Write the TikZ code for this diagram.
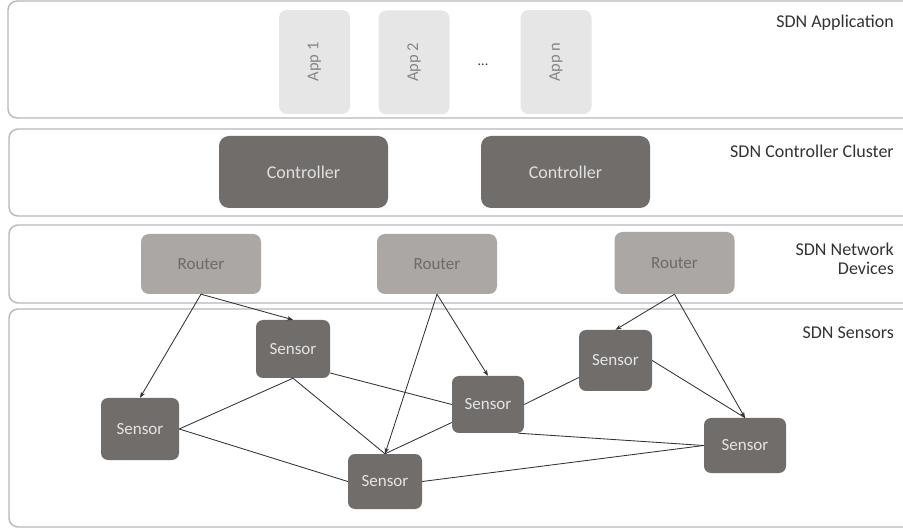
\documentclass[tikz,border=0pt]{standalone}
\usepackage{fontspec}
\setmainfont{Carlito}
\usetikzlibrary{arrows.meta}
\definecolor{layerc}{HTML}{B8B8B8}
\definecolor{darkbox}{HTML}{716D6B}
\definecolor{routerbox}{HTML}{ABA7A5}
\definecolor{routertxt}{HTML}{6E6A68}
\definecolor{appbox}{HTML}{E6E6E6}
\definecolor{apptxt}{HTML}{858585}
\definecolor{labeltxt}{HTML}{333333}
\definecolor{edgec}{HTML}{333333}
\tikzset{
  layer/.style={draw=layerc, line width=1.4pt, rounded corners=9pt, fill=white},
  appbox/.style={fill=appbox, rounded corners=8pt, minimum width=71pt, minimum height=104pt, inner sep=0pt, text=apptxt, font=\fontsize{16.5}{18}\selectfont},
  ctrlbox/.style={fill=darkbox, rounded corners=10pt, minimum width=169pt, minimum height=72pt, inner sep=0pt, text=white!88!black, font=\fontsize{18}{20}\selectfont},
  routerbox/.style={fill=routerbox, rounded corners=8pt, minimum width=120pt, minimum height=60pt, inner sep=0pt, text=routertxt, font=\fontsize{17}{20}\selectfont},
  sensorbox/.style={fill=darkbox, rounded corners=7pt, inner sep=0pt, text=white!90!black, font=\fontsize{17}{20}\selectfont},
  layerlabel/.style={anchor=north east, align=right, text=labeltxt, font=\fontsize{18}{19}\selectfont, inner sep=0pt},
  link/.style={draw=edgec, line width=0.85pt},
  arrowlink/.style={link, -{Stealth[length=6pt,width=4.5pt]}}
}
\begin{document}
\begin{tikzpicture}[x=1pt,y=-1pt]
\useasboundingbox (0,0) rectangle (903,529);
\clip (0,0) rectangle (903,529);
\fill[white] (0,0) rectangle (903,529);
% layers
\draw[layer] (8,1) rectangle (925,118);
\draw[layer] (9,129) rectangle (925,216);
\draw[layer] (9,225) rectangle (925,303);
\draw[layer] (9,309) rectangle (925,527);
% layer labels
\node[layerlabel] (lab1) at (894,15) {SDN Application};
\node[layerlabel] (lab2) at (894,145) {SDN Controller Cluster};
\node[layerlabel] (lab3) at (894,243) {SDN Network\\Devices};
\node[layerlabel] (lab4) at (894,327) {SDN Sensors};
% apps
\node[appbox] (app1) at (314.5,62) {\rotatebox{90}{App 1}};
\node[appbox] (app2) at (414,62.5) {\rotatebox{90}{App 2}};
\node[text=labeltxt, font=\fontsize{14}{16}\selectfont] (dots) at (483,65) {...};
\node[appbox] (appn) at (556,62) {\rotatebox{90}{App n}};
% controllers
\node[ctrlbox] (c1) at (303.5,172) {Controller};
\node[ctrlbox] (c2) at (565.5,172) {Controller};
% routers
\node[routerbox] (r1) at (201,264) {Router};
\node[routerbox] (r2) at (437,264) {Router};
\node[routerbox, minimum height=62pt] (r3) at (674.5,263) {Router};
% sensors
\node[sensorbox, minimum width=74pt, minimum height=58pt] (sa) at (293,349) {Sensor};
\node[sensorbox, minimum width=78pt, minimum height=62pt] (sb) at (140,429) {Sensor};
\node[sensorbox, minimum width=74pt, minimum height=55pt] (sc) at (385,481.5) {Sensor};
\node[sensorbox, minimum width=72pt, minimum height=57pt] (sd) at (488,404.5) {Sensor};
\node[sensorbox, minimum width=73pt, minimum height=61pt] (se) at (615.5,360.5) {Sensor};
\node[sensorbox, minimum width=82pt, minimum height=55pt] (sf) at (745,445.5) {Sensor};
% router arrows
\draw[arrowlink] (r1.south) -- (sb.north);
\draw[arrowlink] (r1.south) -- (sa.north);
\draw[arrowlink] (r2.south) -- (sc.north);
\draw[arrowlink] (r2.south) -- (sd.north);
\draw[arrowlink] (r3.south) -- (se.north);
\draw[arrowlink] (r3.south) -- (sf.north);
% sensor links
\draw[link] (sa.south) -- (sb.east);
\draw[link] (sa.south) -- (sc.north);
\draw[link] ([yshift=-24pt]sa.east) -- (sd.west);
\draw[link] (sb.east) -- (sc.west);
\draw[link] ([yshift=-18pt]sd.west) -- (sc.north);
\draw[link] (sd.east) -- ([yshift=-17pt]se.west);
\draw[link] ([xshift=-6pt]sd.south east) -- (sf.west);
\draw[link] (sc.east) -- (sf.west);
\draw[link] (se.east) -- (sf.north);
\end{tikzpicture}
\end{document}
